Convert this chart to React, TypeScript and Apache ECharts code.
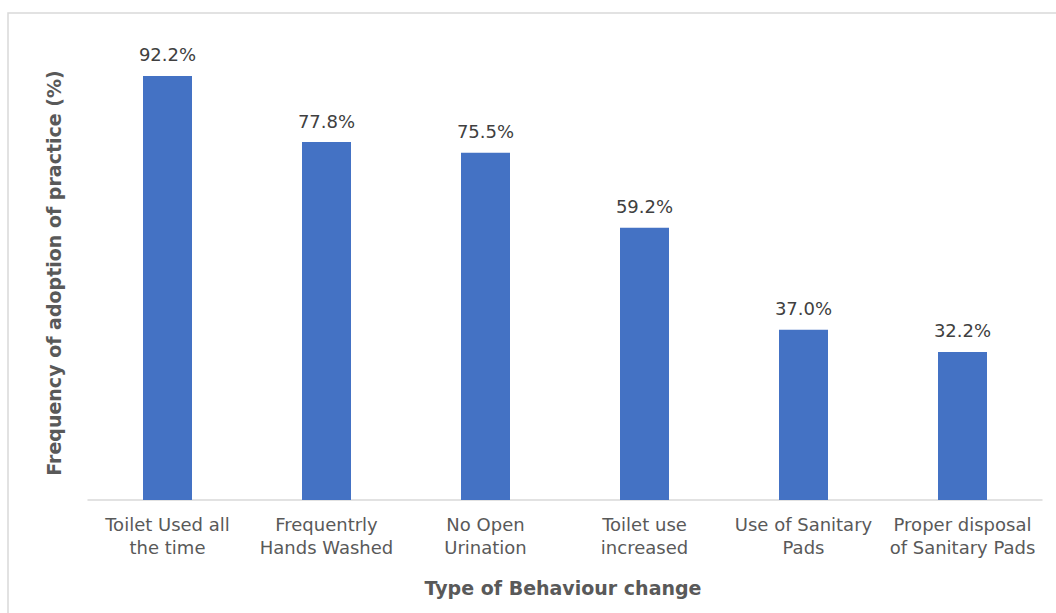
import React, { useEffect, useRef } from "react";
import * as echarts from "echarts";

const categories = [
  "Toilet Used all\nthe time",
  "Frequentrly\nHands Washed",
  "No Open\nUrination",
  "Toilet use\nincreased",
  "Use of Sanitary\nPads",
  "Proper disposal\nof Sanitary Pads",
];
const adoption = [92.2, 77.8, 75.5, 59.2, 37.0, 32.2];

const yTitle = "Frequency of adoption of practice (%)";
const xTitle = "Type of Behaviour change";

const FONT = "'DejaVu Sans', sans-serif";

export default function App() {
  const ref = useRef<HTMLDivElement>(null);

  useEffect(() => {
    if (!ref.current) return;
    const chart = echarts.init(ref.current, null, { renderer: "svg" });
    chart.setOption({
      animation: false,
      backgroundColor: "#ffffff",
      textStyle: { fontFamily: FONT },
      grid: { left: 88, right: 14, top: 40, height: 460 },
      graphic: [
        {
          type: "rect",
          shape: { x: 8, y: 13, width: 1070, height: 640 },
          style: { fill: "none", stroke: "#d9d9d9", lineWidth: 1.5 },
          silent: true,
        },
        {
          type: "text",
          x: 54,
          y: 273,
          rotation: Math.PI / 2,
          style: {
            text: yTitle,
            fill: "#595959",
            font: `bold 19px ${FONT}`,
            align: "center",
            verticalAlign: "middle",
          },
        },
        {
          type: "text",
          x: 563,
          y: 588,
          style: {
            text: xTitle,
            fill: "#595959",
            font: `bold 19px ${FONT}`,
            align: "center",
            verticalAlign: "middle",
          },
        },
      ],
      xAxis: {
        type: "category",
        data: categories,
        axisLine: { lineStyle: { color: "#d9d9d9", width: 1.5 } },
        axisTick: { show: false },
        axisLabel: {
          color: "#595959",
          fontSize: 18,
          fontFamily: FONT,
          lineHeight: 23,
          margin: 13,
          interval: 0,
        },
      },
      yAxis: {
        type: "value",
        min: 0,
        max: 100,
        show: false,
        splitLine: { show: false },
      },
      series: [
        {
          type: "bar",
          data: adoption,
          barWidth: 49,
          itemStyle: { color: "#4472C4" },
          label: {
            show: true,
            position: "top",
            distance: 12,
            color: "#404040",
            fontSize: 18,
            fontFamily: FONT,
            formatter: (p: any) => `${Number(p.value).toFixed(1)}%`,
          },
        },
      ],
    });
    return () => chart.dispose();
  }, []);

  return (
    <div
      ref={ref}
      style={{ position: "fixed", left: 0, top: 0, width: 1056, height: 613 }}
    />
  );
}
